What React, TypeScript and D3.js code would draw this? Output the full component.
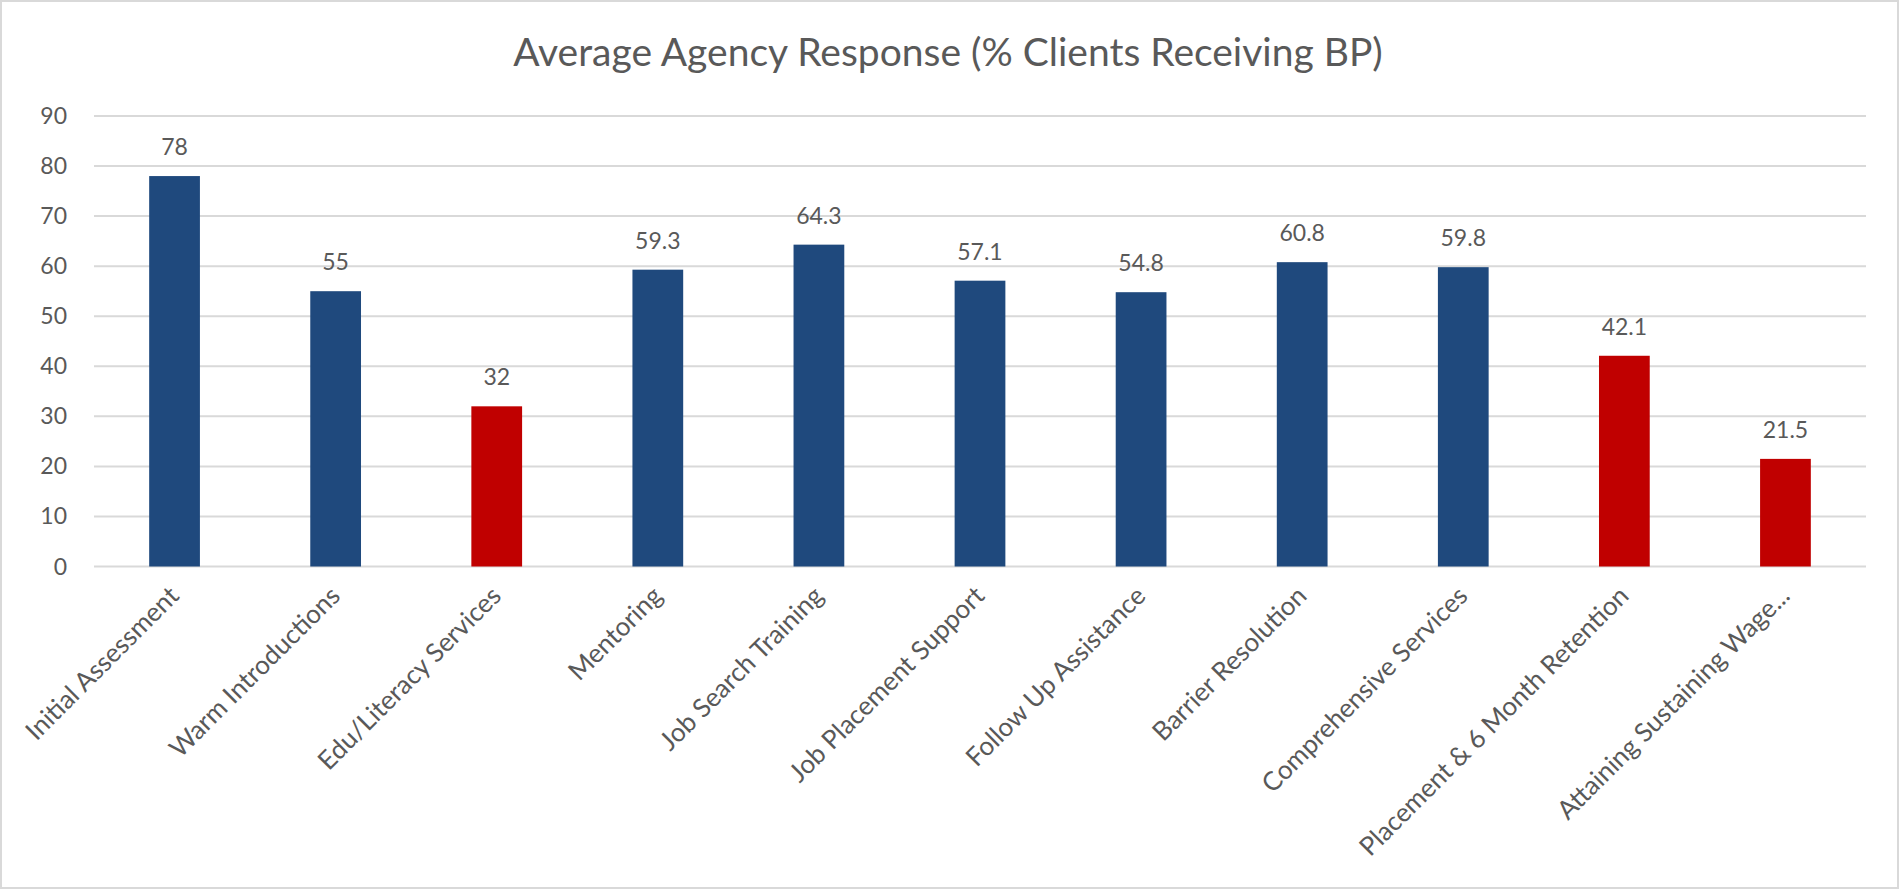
import React from "react";
import * as d3 from "d3";

const categories = [
  "Initial Assessment",
  "Warm Introductions",
  "Edu/Literacy Services",
  "Mentoring",
  "Job Search Training",
  "Job Placement Support",
  "Follow Up Assistance",
  "Barrier Resolution",
  "Comprehensive Services",
  "Placement & 6 Month Retention",
  "Attaining Sustaining Wage...",
];
const values = [78, 55, 32, 59.3, 64.3, 57.1, 54.8, 60.8, 59.8, 42.1, 21.5];
const valueLabels = ["78", "55", "32", "59.3", "64.3", "57.1", "54.8", "60.8", "59.8", "42.1", "21.5"];
const highlighted = ["Edu/Literacy Services", "Placement & 6 Month Retention", "Attaining Sustaining Wage..."];
const yTicks = [0, 10, 20, 30, 40, 50, 60, 70, 80, 90];
const title = "Average Agency Response (% Clients Receiving BP)";

const W = 1900;
const H = 890;
const FONT = "Lato, 'Open Sans', sans-serif";
const TEXT = "#595959";

export default function App() {
  const x = d3.scaleBand<string>().domain(categories).range([94, 1866]).paddingInner(0.685).paddingOuter(0.3425);
  const y = d3.scaleLinear().domain([0, 90]).range([566.5, 116]);
  const band = d3.scaleBand<string>().domain(categories).range([94, 1866]);

  return (
    <svg width={W} height={H} style={{ position: "absolute", left: 0, top: 0, background: "#fff" }} fontFamily={FONT}>
      <rect x={1} y={1} width={W - 3} height={H - 3} fill="#fff" stroke="#d9d9d9" strokeWidth={2} />
      <text x={948} y={66} textAnchor="middle" fontSize={39} fill={TEXT}>{title}</text>
      {yTicks.map((t) => (
        <g key={t}>
          <line x1={94} x2={1866} y1={y(t)} y2={y(t)} stroke="#d9d9d9" strokeWidth={2} />
          <text x={67} y={y(t) + 8} textAnchor="end" fontSize={23} fill={TEXT}>{t}</text>
        </g>
      ))}
      {categories.map((c, i) => {
        const bx = x(c) as number;
        const bw = x.bandwidth();
        const fill = highlighted.includes(c) ? "#c00000" : "#1f497d";
        const cx = (band(c) as number) + band.bandwidth() / 2;
        return (
          <g key={c}>
            <rect x={bx} y={y(values[i])} width={bw} height={y(0) - y(values[i])} fill={fill} />
            <text x={cx} y={y(values[i]) - 21} textAnchor="middle" fontSize={23} fill={TEXT}>{valueLabels[i]}</text>
            <text
              transform={`translate(${cx + 6},${y(0) + 31}) rotate(-45)`}
              textAnchor="end"
              fontSize={26}
              fill={TEXT}
            >
              {c}
            </text>
          </g>
        );
      })}
    </svg>
  );
}
